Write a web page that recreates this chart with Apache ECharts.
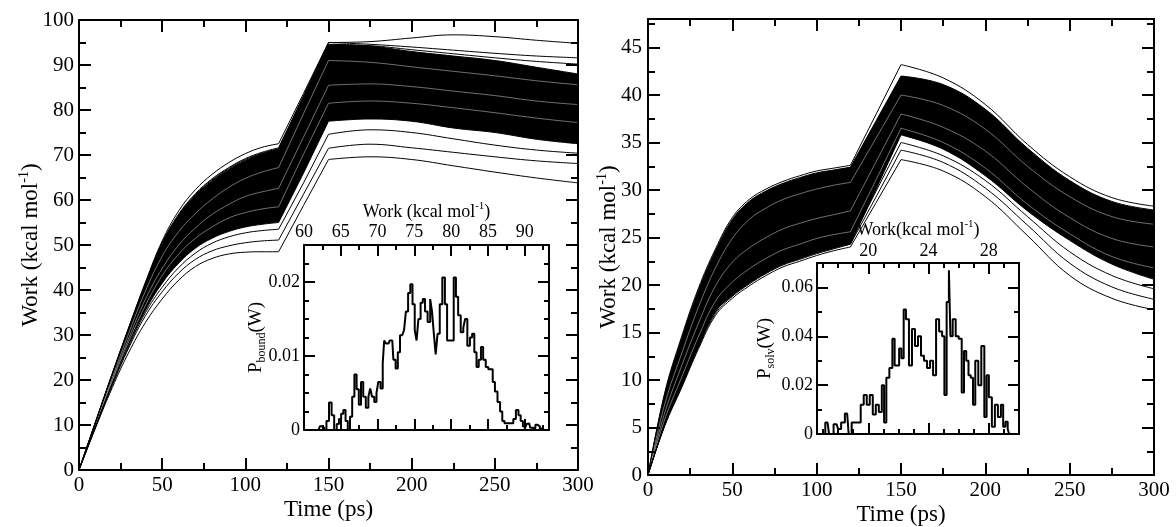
<!DOCTYPE html>
<html><head><meta charset="utf-8">
<script src="https://cdn.jsdelivr.net/npm/echarts@6/dist/echarts.min.js"></script>
<style>html,body{margin:0;padding:0;background:#fff}#c{width:1176px;height:527px}</style>
</head><body><div id="c"></div>
<script>
// ---------- data ----------
const timePs = [0,10,20,30,40,50,60,70,80,90,100,110,120,135,150,175,200,225,250,275,300];

// left panel (bound)
const bandTopLeft  = [0,10.7,21.3,31.6,41.5,50.3,56.6,61,64.3,66.8,68.8,70.3,71.3,83,94.5,94.2,93,92,91,89.5,88];
const bandBotLeft  = [0,9.8,19.3,28,35.5,41.5,46,49.3,51.5,53,54,54.6,55,66,77.5,78,77.5,76,75,73.5,72.5];
const topLineLeft1 = [0,10.8,21.5,31.8,41.8,50.9,57.6,62.3,65.7,68.3,70.3,71.7,72.5,83.7,95,95.2,96,96.7,96.3,95.5,94.8];
const topLineLeft2 = [0,10.7,21.3,31.6,41.5,50.5,56.9,61.4,64.7,67.2,69.2,70.6,71.6,83.2,95,94.6,94,93.3,92.6,92,91.6];
const topLineLeft3 = [0,10.7,21.3,31.6,41.5,50.4,56.7,61.2,64.5,67,69,70.4,71.4,83,94.6,94.3,93.4,92.5,91.6,90.8,90.2];
const botLineLeft1 = [0,9.4,18.3,26.2,32.8,38,42.2,45.2,47,48,48.4,48.5,48.5,58.8,69,69.6,69,67.6,66.2,64.9,63.8];
const botLineLeft2 = [0,9.6,18.8,27.2,34.3,39.6,43.8,46.8,48.7,49.8,50.5,50.9,51.1,61.3,71.5,72.4,71.6,70.6,69.6,68.7,68.1];
const botLineLeft3 = [0,9.7,19,27.6,35,40.6,45,48.2,50.4,51.8,52.7,53.2,53.5,63.8,74.6,75.6,75,73.6,72.2,71.1,70.4];
const gapLeft1 = [0,10.3,20.6,30.5,39.8,47.5,53,57,60.2,62.8,64.8,66.2,67.2,79.2,91,90.6,89.6,88.6,87.6,86.5,85.6];
const gapLeft2 = [0,10.1,20,29.4,38,44.8,50,53.8,56.8,59,60.8,61.8,62.6,74,85.5,85.8,85.2,84.2,83.2,82,81.2];
const gapLeft3 = [0,9.9,19.6,28.6,36.6,43.2,48,51.5,54,56,57.2,58,58.5,70.2,81.5,82,81.5,80.5,79.4,78.2,77.2];

// right panel (solvated)
const bandTopRight  = [0,8.6,14.4,19.5,23.6,26.9,28.8,29.9,30.7,31.3,31.8,32.1,32.4,37.2,42,41.1,38.5,34.4,31,28.8,27.9];
const bandBotRight  = [0,5.3,9.4,13.6,17.2,18.9,20.2,21.3,22.2,22.8,23.4,23.9,24.3,30,35.8,34.3,31.5,27.8,24.7,22.2,20.6];
const topLineRight1 = [0,8.7,14.6,19.7,23.8,27.1,29,30.1,30.9,31.5,32,32.3,32.6,37.9,43.2,41.8,39,34.8,31.4,29.2,28.3];
const botLineRight1 = [0,5.2,9.2,13.3,16.8,18.6,19.9,21,21.9,22.5,23.1,23.6,24,28.6,33.2,32,29.3,25.2,21,18.6,17.4];
const botLineRight2 = [0,5.3,9.4,13.5,17,18.8,20.1,21.2,22.1,22.7,23.3,23.8,24.3,29.2,34.2,32.9,30.2,26.3,22.3,19.8,18.5];
const botLineRight3 = [0,5.3,9.4,13.6,17.2,18.9,20.2,21.3,22.2,22.8,23.4,23.9,24.6,29.8,35,33.6,31,27.2,23.5,21,19.6];
const gapRight1 = [0,7.5,12.8,17.7,21.8,24.9,26.9,28.1,29,29.6,30.1,30.5,30.8,35.4,40,38.9,36.4,32.5,29.3,27.2,26.4];
const gapRight2 = [0,6.6,11.5,16,19.9,22.4,23.9,25,25.9,26.5,27,27.4,27.8,32.9,38,36.6,34.1,30.3,27.1,24.9,24];
const gapRight3 = [0,5.9,10.3,14.6,18.3,20.3,21.7,22.8,23.7,24.3,24.9,25.3,25.6,31,36.5,35,32.3,28.5,25.4,23,21.8];

// inset histograms
const insetBoundW = [60,62,62.3,62.6,62.9,63.2,63.6,63.9,64.3,64.6,64.9,65.2,65.5,65.8,66.1,66.4,66.7,67,67.3,67.6,67.9,68.2,68.6,68.9,69.1,69.4,69.7,70,70.2,70.6,70.8,71,71.3,71.5,71.8,72,72.3,72.6,72.9,73.2,73.5,73.7,74,74.3,74.6,74.9,75.2,75.4,75.7,76,76.3,76.6,77,77.3,77.5,77.8,78,78.3,78.6,79,79.3,79.6,79.9,80.2,80.5,80.8,81.1,81.5,81.8,82,82.4,82.7,83,83.3,83.6,83.9,84.2,84.5,84.9,85.2,85.5,85.8,86.1,86.5,86.8,87.1,87.4,87.8,88.3,88.6,89,89.3,89.6,89.9,90.1,90.4,90.6,90.9,91.3,91.6,91.9,92.2,92.6];
const insetBoundP = [0,0,0.0005,0.0003,0,0.0012,0.0037,0.002,0,0.0008,0.0015,0.0022,0.0027,0.0012,0,0.0018,0.0045,0.0075,0.0055,0.0034,0.0065,0.0045,0.003,0.0045,0.0056,0.0045,0.0038,0.005,0.0065,0.0056,0.009,0.0121,0.0117,0.0117,0.0121,0.0121,0.0095,0.0083,0.0105,0.0128,0.013,0.0135,0.016,0.0185,0.0197,0.017,0.0135,0.0121,0.015,0.0172,0.0177,0.016,0.0146,0.0177,0.016,0.013,0.0102,0.013,0.017,0.0206,0.017,0.0121,0.0121,0.0121,0.0206,0.018,0.0155,0.0132,0.0138,0.015,0.0114,0.0125,0.013,0.0105,0.0085,0.0095,0.0112,0.0095,0.0085,0.0082,0.0082,0.0065,0.0052,0.0038,0.0025,0.0012,0.0009,0.0009,0.0009,0.0015,0.0027,0.002,0.0012,0.0005,0.0004,0.0008,0.0009,0.0003,0.0002,0.0007,0.0005,0.0002,0];
const insetSolvW = [17,17.3,17.5,17.9,18.1,18.3,18.6,18.8,19,19.2,19.4,19.6,19.8,20,20.2,20.4,20.6,20.8,21,21.1,21.3,21.5,21.7,21.8,22,22.1,22.3,22.4,22.6,22.8,23,23.2,23.4,23.6,23.8,24,24.2,24.4,24.6,24.8,25,25.1,25.3,25.4,25.5,25.7,25.9,26.1,26.3,26.4,26.6,26.7,26.9,27,27.2,27.4,27.6,27.8,27.9,28.1,28.3,28.5,28.7,28.9,29,29.2,29.3,29.4];
const insetSolvP = [0,0.0047,0,0.004,0.002,0.0047,0.0084,0,0.0047,0.0047,0.0047,0.012,0.016,0.012,0.016,0.008,0.012,0.009,0.02,0.0047,0.023,0.027,0.039,0.028,0.028,0.035,0.031,0.051,0.047,0.028,0.043,0.036,0.04,0.032,0.03,0.027,0.03,0.024,0.047,0.042,0.04,0.016,0.054,0.067,0.04,0.047,0.04,0.039,0.017,0.034,0.03,0.024,0.023,0.012,0.03,0.02,0.036,0.007,0.024,0.015,0.003,0.012,0.007,0.012,0.003,0.005,0.002,0];

// tick values
const mainTimeTicks = [0,50,100,150,200,250,300];
const mainTimeMinor = [25,75,125,175,225,275];
const leftWorkTicks = [0,10,20,30,40,50,60,70,80,90,100];
const leftWorkMinor = [5,15,25,35,45,55,65,75,85,95];
const rightWorkTicks = [0,5,10,15,20,25,30,35,40,45];
const rightWorkMinor = [2.5,7.5,12.5,17.5,22.5,27.5,32.5,37.5,42.5,47.5];
const insetBoundXTicks = [60,65,70,75,80,85,90];
const insetBoundXMinor = [62.5,67.5,72.5,77.5,82.5,87.5,92.5];
const insetBoundYTicks = [0,0.01,0.02];
const insetBoundYMinor = [0.0025,0.005,0.0075,0.0125,0.015,0.0175,0.0225];
const insetSolvXTicks = [20,24,28];
const insetSolvXMinor = [17,18,19,21,22,23,25,26,27,29];
const insetSolvYTicks = [0,0.02,0.04,0.06];
const insetSolvYMinor = [0.01,0.03,0.05];

// ---------- build ----------
const FONT = "'Liberation Serif','DejaVu Serif',serif";
const pts = ys => timePs.map((t, i) => [t, ys[i]]);
const zip = (xs, ys) => xs.map((x, i) => [x, ys[i]]);
// pulling phases: 0-120 ps curved, 120-150 ps linear ramp, 150-300 ps curved
const LINE_SEGS = [[0, 12, 0.4], [12, 14, 0], [14, 20, 0.4]];
// fill pieces overlap a little so no seam shows between them
const FILL_SEGS = [[0, 12, 0.4], [11, 15, 0], [14, 20, 0.4]];

function mkAxes(gi, min, max, major, minor, labelPos, otherPos, o) {
  const base = (pos, vals, len, line, labels) => ({
    type: 'value', gridIndex: gi, min: min, max: max, position: pos,
    zlevel: o.zlevel, z: 6, silent: true,
    axisLine: {show: line, onZero: false, lineStyle: {color: '#000', width: 2}},
    axisTick: {show: true, inside: true, length: len, customValues: vals, lineStyle: {color: '#000', width: o.tickW}},
    axisLabel: labels ? {show: true, customValues: major, margin: o.margin, color: '#000', fontFamily: FONT, fontSize: o.fontSize} : {show: false},
    splitLine: {show: false}, minorTick: {show: false}, minorSplitLine: {show: false},
    axisPointer: {show: false}
  });
  const a0 = base(labelPos, major, o.majLen, true, true);
  if (o.name) {
    a0.name = o.name; a0.nameLocation = 'middle'; a0.nameGap = o.nameGap;
    a0.nameTextStyle = {rich: o.rich}; a0.nameMoveOverlap = false;
    if (o.nameRotate != null) a0.nameRotate = o.nameRotate;
  }
  return [a0, base(labelPos, minor, o.minLen, false, false), base(otherPos, major, o.majLen, true, false), base(otherPos, minor, o.minLen, false, false)];
}

const supRich = fs => ({
  a: {fontFamily: FONT, fontSize: fs, color: '#000', lineHeight: fs + 2, padding: [4, 0, 0, 0], verticalAlign: 'bottom'},
  s: {fontFamily: FONT, fontSize: Math.round(fs * 0.6), color: '#000', lineHeight: Math.round(fs * 0.6) + 1, verticalAlign: 'top'}
});
const subRich = fs => ({
  a: {fontFamily: FONT, fontSize: fs, color: '#000', lineHeight: fs + 2, padding: [0, 0, 4, 0], verticalAlign: 'top'},
  b: {fontFamily: FONT, fontSize: Math.round(fs * 0.62), color: '#000', lineHeight: Math.round(fs * 0.62) + 1, verticalAlign: 'bottom'}
});
const plainRich = fs => ({a: {fontFamily: FONT, fontSize: fs, color: '#000', lineHeight: fs + 2}});

const mainOpt = {zlevel: 0, majLen: 12, minLen: 7, tickW: 2, fontSize: 21};
const insOpt = {zlevel: 1, majLen: 11, minLen: 5, tickW: 2, fontSize: 18};

const xAxis = [
  ...mkAxes(0, 0, 300, mainTimeTicks, mainTimeMinor, 'bottom', 'top', Object.assign({}, mainOpt, {margin: 5, name: '{a|Time (ps)}', nameGap: 27, rich: plainRich(23)})),
  ...mkAxes(1, 0, 300, mainTimeTicks, mainTimeMinor, 'bottom', 'top', Object.assign({}, mainOpt, {margin: 5, name: '{a|Time (ps)}', nameGap: 27, rich: plainRich(23)})),
  ...mkAxes(2, 60, 93.3, insetBoundXTicks, insetBoundXMinor, 'top', 'bottom', Object.assign({}, insOpt, {margin: 4, name: '{a|Work (kcal mol}{s|-1}{a|)}', nameGap: 24, rich: supRich(18)})),
  ...mkAxes(3, 16.6, 30, insetSolvXTicks, insetSolvXMinor, 'top', 'bottom', Object.assign({}, insOpt, {margin: 3, name: '{a|Work(kcal mol}{s|-1}{a|)}', nameGap: 24, rich: supRich(18)}))
];
const yAxis = [
  ...mkAxes(0, 0, 100, leftWorkTicks, leftWorkMinor, 'left', 'right', Object.assign({}, mainOpt, {margin: 5, name: '{a|Work (kcal mol}{s|-1}{a|)}', nameGap: 37, nameRotate: 90, rich: supRich(23)})),
  ...mkAxes(1, 0, 48, rightWorkTicks, rightWorkMinor, 'left', 'right', Object.assign({}, mainOpt, {margin: 6, name: '{a|Work (kcal mol}{s|-1}{a|)}', nameGap: 28, nameRotate: 90, rich: supRich(23)})),
  ...mkAxes(2, 0, 0.025, insetBoundYTicks, insetBoundYMinor, 'left', 'right', Object.assign({}, insOpt, {margin: 4, name: '{a|P}{b|bound}{a|(W)}', nameGap: 36, nameRotate: 90, rich: subRich(19)})),
  ...mkAxes(3, 0, 0.07, insetSolvYTicks, insetSolvYMinor, 'left', 'right', Object.assign({}, insOpt, {margin: 4, name: '{a|P}{b|solv}{a|(W)}', nameGap: 40, nameRotate: 90, rich: subRich(19)}))
];

const grid = [
  {left: 79, top: 20, width: 499, height: 450, containLabel: false, outerBoundsMode: 'none'},
  {left: 648, top: 19, width: 506, height: 456, containLabel: false, outerBoundsMode: 'none'},
  {left: 304, top: 245, width: 245, height: 185, containLabel: false, outerBoundsMode: 'none', show: true, backgroundColor: '#fff', borderWidth: 0, zlevel: 1, z: 0},
  {left: 817, top: 263, width: 202, height: 171, containLabel: false, outerBoundsMode: 'none', show: true, backgroundColor: '#fff', borderWidth: 0, zlevel: 1, z: 0}
];

function pieces(ax, ys, segs, style) {
  const all = pts(ys);
  return segs.map(([a, b, sm]) => Object.assign({
    type: 'line', xAxisIndex: ax, yAxisIndex: ax, symbol: 'none', silent: true,
    data: all.slice(a, b + 1), smooth: sm
  }, style));
}
function band(ax, top, bot) {
  return [
    ...pieces(ax, top, FILL_SEGS, {z: 1, lineStyle: {width: 0, opacity: 0}, areaStyle: {color: '#000', opacity: 1, origin: 'start'}}),
    ...pieces(ax, bot, FILL_SEGS, {z: 2, lineStyle: {width: 0, opacity: 0}, areaStyle: {color: '#fff', opacity: 1, origin: 'start'}}),
    ...pieces(ax, top, LINE_SEGS, {z: 4, lineStyle: {color: '#000', width: 1}}),
    ...pieces(ax, bot, LINE_SEGS, {z: 4, lineStyle: {color: '#000', width: 1}})
  ];
}
const traj = (ax, ys) => pieces(ax, ys, LINE_SEGS, {z: 4, lineStyle: {color: '#000', width: 1}});
const gap = (ax, ys) => pieces(ax, ys, LINE_SEGS, {z: 3, lineStyle: {color: '#fff', width: 0.8, opacity: 0.55}});
function hist(ax, xs, ys) {
  return {type: 'line', xAxisIndex: ax, yAxisIndex: ax, data: zip(xs, ys), step: 'middle', symbol: 'none', silent: true,
          zlevel: 1, z: 3, lineStyle: {color: '#000', width: 2}};
}

const series = [
  ...band(0, bandTopLeft, bandBotLeft),
  ...gap(0, gapLeft1), ...gap(0, gapLeft2), ...gap(0, gapLeft3),
  ...traj(0, topLineLeft1), ...traj(0, topLineLeft2), ...traj(0, topLineLeft3),
  ...traj(0, botLineLeft1), ...traj(0, botLineLeft2), ...traj(0, botLineLeft3),
  ...band(4, bandTopRight, bandBotRight),
  ...gap(4, gapRight1), ...gap(4, gapRight2), ...gap(4, gapRight3),
  ...traj(4, topLineRight1),
  ...traj(4, botLineRight1), ...traj(4, botLineRight2), ...traj(4, botLineRight3),
  hist(8, insetBoundW, insetBoundP),
  hist(12, insetSolvW, insetSolvP)
];

const chart = echarts.init(document.getElementById('c'), null, {renderer: 'canvas'});
chart.setOption({
  backgroundColor: '#fff',
  animation: false,
  tooltip: {show: false},
  grid: grid, xAxis: xAxis, yAxis: yAxis, series: series
});
</script></body></html>
